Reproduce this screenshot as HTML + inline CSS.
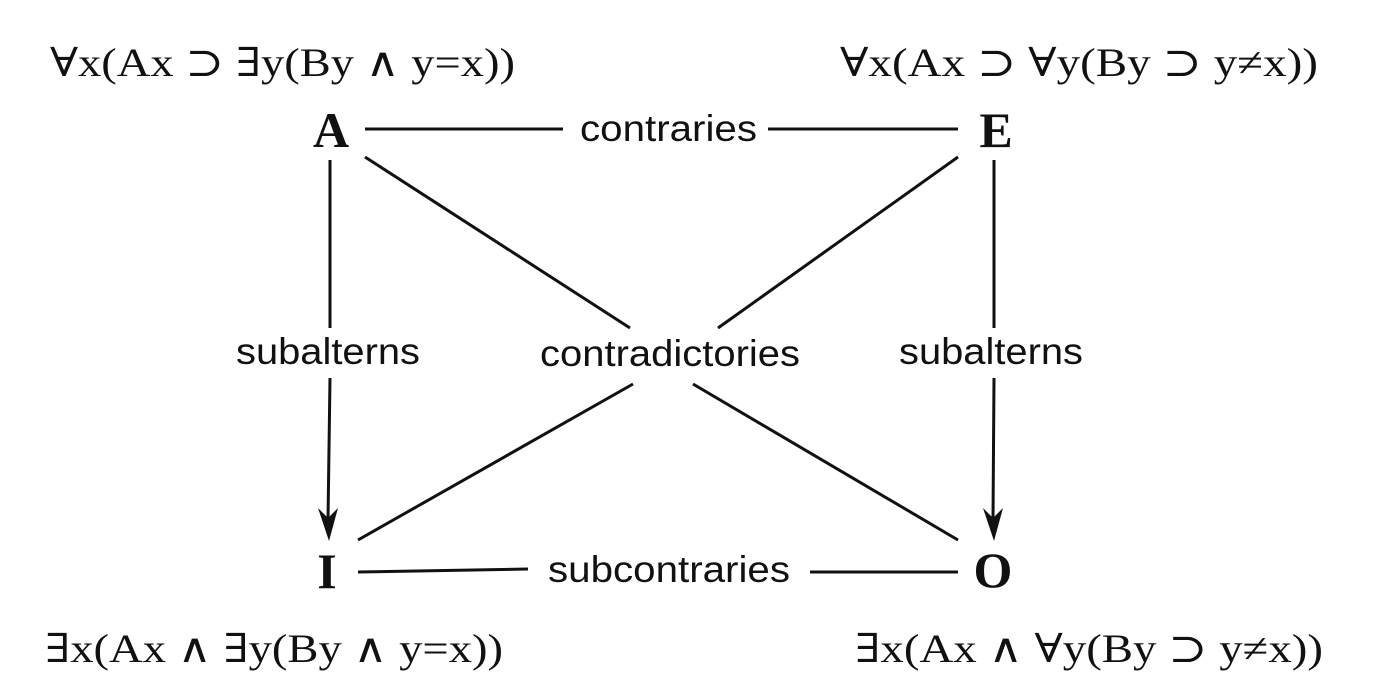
<!DOCTYPE html>
<html><head><meta charset="utf-8"><style>
body{margin:0;background:#fff;}
svg{display:block}
.f{font-family:"Liberation Serif","DejaVu Serif",serif;font-size:40px;fill:#111}
.l{font-family:"Liberation Sans",sans-serif;font-size:37px;fill:#111}
.v{font-family:"Liberation Serif",serif;font-size:50px;font-weight:bold;fill:#111}
</style></head><body>
<svg width="1379" height="695" viewBox="0 0 1379 695">
<text class="f" x="50" y="76" textLength="465" lengthAdjust="spacingAndGlyphs">∀x(Ax ⊃ ∃y(By ∧ y=x))</text>
<text class="f" x="840" y="76" textLength="478" lengthAdjust="spacingAndGlyphs">∀x(Ax ⊃ ∀y(By ⊃ y≠x))</text>
<text class="f" x="45" y="662" textLength="458" lengthAdjust="spacingAndGlyphs">∃x(Ax ∧ ∃y(By ∧ y=x))</text>
<text class="f" x="855" y="662" textLength="468" lengthAdjust="spacingAndGlyphs">∃x(Ax ∧ ∀y(By ⊃ y≠x))</text>
<g class="v" text-anchor="middle">
<text x="331" y="147">A</text>
<text x="996" y="147">E</text>
<text x="327" y="588">I</text>
<text x="993" y="587">O</text>
</g>
<g stroke="#111" stroke-width="3" fill="none">
<line x1="365" y1="129" x2="563" y2="129"/>
<line x1="768" y1="129" x2="958" y2="129"/>
<line x1="330" y1="160" x2="330" y2="328"/>
<line x1="330" y1="378" x2="328" y2="520"/>
<line x1="994" y1="160" x2="994" y2="328"/>
<line x1="994" y1="378" x2="993" y2="520"/>
<line x1="365" y1="157" x2="630" y2="328"/>
<line x1="958" y1="157" x2="718" y2="328"/>
<line x1="358" y1="540" x2="633" y2="384"/>
<line x1="958" y1="540" x2="693" y2="384"/>
<line x1="358" y1="572" x2="528" y2="569"/>
<line x1="810" y1="572" x2="958" y2="572"/>
</g>
<g fill="#111">
<path d="M318,508 L328,518 L338,508 L329,541 Z"/>
<path d="M983,508 L993,518 L1003,508 L994,541 Z"/>
</g>
<g class="l">
<text x="580" y="141" textLength="177" lengthAdjust="spacingAndGlyphs">contraries</text>
<text x="236" y="364" textLength="184" lengthAdjust="spacingAndGlyphs">subalterns</text>
<text x="899" y="364" textLength="184" lengthAdjust="spacingAndGlyphs">subalterns</text>
<text x="540" y="366" textLength="260" lengthAdjust="spacingAndGlyphs">contradictories</text>
<text x="548" y="582" textLength="242" lengthAdjust="spacingAndGlyphs">subcontraries</text>
</g>
</svg>
</body></html>
